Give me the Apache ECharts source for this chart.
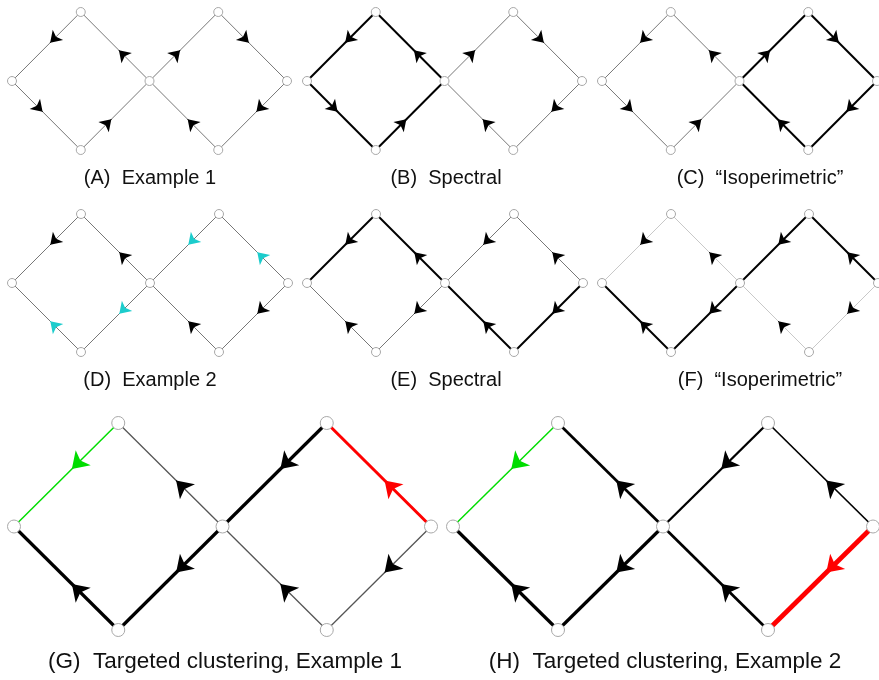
<!DOCTYPE html>
<html>
<head>
<meta charset="utf-8">
<script src="https://cdn.jsdelivr.net/npm/echarts@6/dist/echarts.min.js"></script>
<style>
  html, body { margin: 0; padding: 0; background: #fff; }
  #chart { width: 879px; height: 680px; }
</style>
</head>
<body>
<div id="chart"></div>
<script>
// node layout shared by every panel: L, T1, C, B1, T2, R, B2
const nodeX = [0, 1, 2, 1, 3, 4, 3];
const nodeY = [0, 1, 0, -1, 1, 0, -1];

// edges as [from, to]; order: T1-L, L-B1, B1-C, C-T1, C-T2, T2-R, R-B2, B2-C
const example1Edges = [[1, 0], [0, 3], [3, 2], [2, 1], [2, 4], [4, 5], [5, 6], [6, 2]];
const example2Edges = [[1, 0], [3, 0], [2, 3], [2, 1], [4, 2], [5, 4], [5, 6], [6, 2]];

// panel captions
const captions = [
  '(A)  Example 1', '(B)  Spectral', '(C)  \u201cIsoperimetric\u201d',
  '(D)  Example 2', '(E)  Spectral', '(F)  \u201cIsoperimetric\u201d',
  '(G)  Targeted clustering, Example 1', '(H)  Targeted clustering, Example 2'
];

// edge direction set per panel
const panelEdges = [
  example1Edges, example1Edges, example1Edges,
  example2Edges, example2Edges, example2Edges,
  example2Edges, example2Edges
];

// edge class per panel (which edges are cut / highlighted)
const panelEdgeClass = [
  ['thin', 'thin', 'thin', 'thin', 'thin', 'thin', 'thin', 'thin'],
  ['thick', 'thick', 'thick', 'thick', 'thin', 'thin', 'thin', 'thin'],
  ['thin', 'thin', 'thin', 'thin', 'thick', 'thick', 'thick', 'thick'],
  ['thin', 'thin', 'thin', 'thin', 'thin', 'thin', 'thin', 'thin'],
  ['thick', 'thin', 'thin', 'thick', 'thin', 'thin', 'thick', 'thick'],
  ['light', 'thick', 'thick', 'light', 'thick', 'thick', 'light', 'light'],
  ['seed', 'w3', 'w3', 'thin', 'w3', 'target', 'thin', 'thin'],
  ['seed', 'w3', 'w3', 'w27', 'w23', 'w17', 'target2', 'w27']
];

// arrow class per panel (cyan = flipped relative to Example 1)
const panelArrowClass = [
  null, null, null,
  ['black', 'flip', 'flip', 'black', 'flip', 'flip', 'black', 'black'],
  null, null,
  ['seed', 'black', 'black', 'black', 'black', 'target', 'black', 'black'],
  ['seed', 'black', 'black', 'black', 'black', 'black', 'target', 'black']
];

// ---- styling ----
const edgeStyle = {
  thin: { color: '#777', width: 1 },
  thick: { color: '#000', width: 2 },
  light: { color: '#c8c8c8', width: 1 },
  seed: { color: '#00dd00', width: 1.5 },
  target: { color: '#ff0000', width: 3 },
  target2: { color: '#ff0000', width: 4.7 },
  w3: { color: '#000', width: 3.2 },
  w27: { color: '#000', width: 2.7 },
  w23: { color: '#000', width: 2.3 },
  w17: { color: '#000', width: 1.7 }
};
const arrowColor = { black: '#000', flip: '#1ccccc', seed: '#00dd00', target: '#ff0000' };

// pixel box of each panel's node area [left, top, width, height]
const panelBoxes = [
  [12, 12, 275, 138], [307, 12, 275, 138], [602, 12, 275, 138],
  [12, 214, 276, 138], [307, 214, 276, 138], [602, 214, 276, 138],
  [14, 423, 417, 207], [453, 423, 420, 207]
];
const captionPos = [
  [150, 178], [446, 178], [760, 178],
  [150, 380], [446, 380], [760, 380],
  [225, 662], [665, 662]
];

const chart = echarts.init(document.getElementById('chart'));

const grid = [], xAxis = [], yAxis = [], series = [], graphic = [];

panelBoxes.forEach((box, p) => {
  const big = p >= 6;
  grid.push({ left: box[0], top: box[1], width: box[2], height: box[3] });
  xAxis.push({ gridIndex: p, type: 'value', min: 0, max: 4, show: false });
  yAxis.push({ gridIndex: p, type: 'value', min: -1, max: 1, show: false });

  const edges = panelEdges[p];
  const lineData = [], arrowData = [];
  edges.forEach((e, i) => {
    const x1 = nodeX[e[0]], y1 = nodeY[e[0]];
    const x2 = nodeX[e[1]], y2 = nodeY[e[1]];
    const cls = panelEdgeClass[p][i];
    const st = edgeStyle[cls];
    lineData.push({
      coords: [[x1, y1], [x2, y2]],
      lineStyle: {
        color: big && cls === 'thin' ? '#555' : st.color,
        width: big && cls === 'thin' ? 1.3 : st.width,
        opacity: 1
      }
    });
    // short stub ending where the arrowhead sits (arrow tip near the edge midpoint)
    const ac = panelArrowClass[p] ? arrowColor[panelArrowClass[p][i]] : '#000';
    const t0 = 0.41, t1 = 0.445;
    arrowData.push({
      coords: [
        [x1 + (x2 - x1) * t0, y1 + (y2 - y1) * t0],
        [x1 + (x2 - x1) * t1, y1 + (y2 - y1) * t1]
      ],
      lineStyle: { color: ac, width: 1, opacity: 1 }
    });
  });

  series.push({
    type: 'lines',
    coordinateSystem: 'cartesian2d',
    xAxisIndex: p, yAxisIndex: p,
    clip: false,
    symbol: 'none',
    z: 2,
    silent: true,
    data: lineData
  });
  series.push({
    type: 'lines',
    coordinateSystem: 'cartesian2d',
    xAxisIndex: p, yAxisIndex: p,
    clip: false,
    symbol: ['none', 'arrow'],
    symbolSize: big ? [10, 16] : [7, 11],
    z: 3,
    silent: true,
    data: arrowData
  });
  series.push({
    type: 'scatter',
    xAxisIndex: p, yAxisIndex: p,
    clip: false,
    symbol: 'circle',
    symbolSize: big ? 13 : 9,
    itemStyle: { color: '#fff', borderColor: '#a8a8a8', borderWidth: 1, opacity: 1 },
    z: 4,
    silent: true,
    data: nodeX.map((x, k) => [x, nodeY[k]])
  });

  graphic.push({
    type: 'text',
    x: captionPos[p][0],
    y: captionPos[p][1],
    style: {
      text: captions[p],
      fill: '#111',
      font: (big ? '22.5px' : '20px') + ' "Liberation Sans", Helvetica, Arial, sans-serif',
      textAlign: 'center',
      textVerticalAlign: 'middle'
    }
  });
});

chart.setOption({
  animation: false,
  grid: grid,
  xAxis: xAxis,
  yAxis: yAxis,
  graphic: graphic,
  series: series
});
</script>
</body>
</html>
